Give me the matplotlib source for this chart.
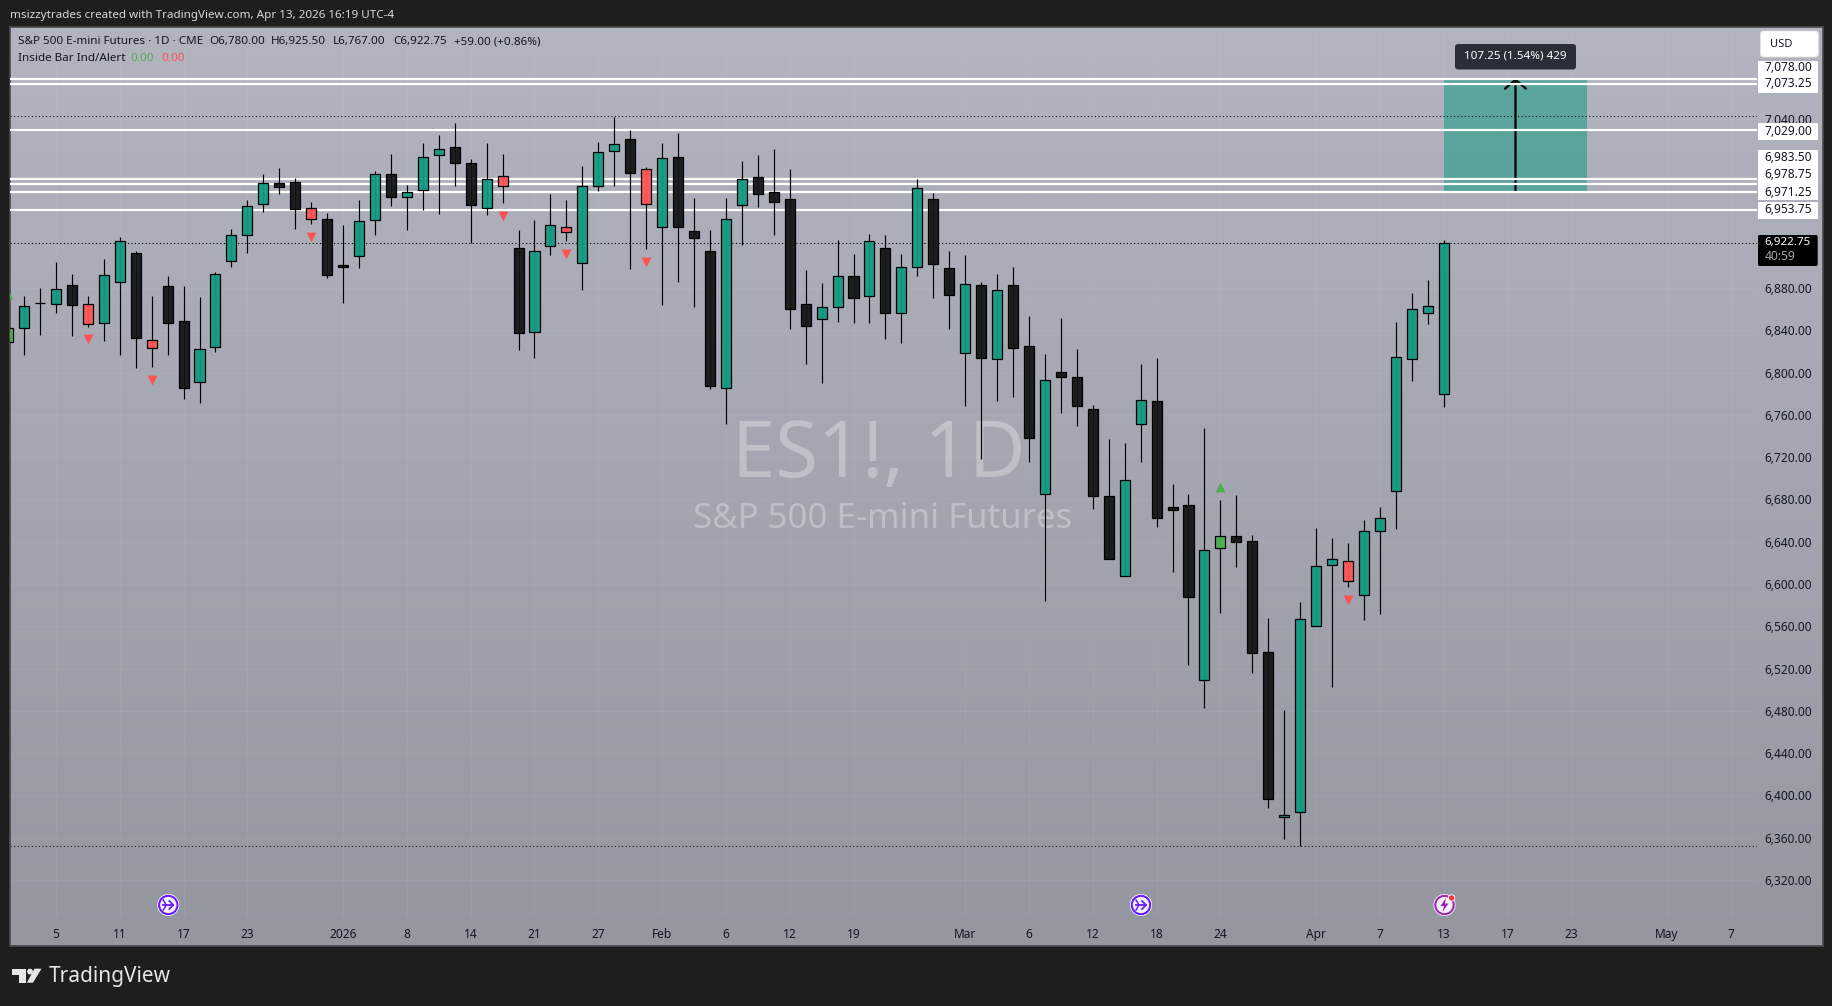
import matplotlib
matplotlib.use("Agg")
import matplotlib.pyplot as plt
import numpy as np
from matplotlib.colors import to_rgba
from matplotlib.patches import Circle, FancyBboxPatch, Polygon, Rectangle

plt.rcParams["font.family"] = ["Noto Sans", "DejaVu Sans"]

W, H = 1833, 1006

# daily candles, first one is three sessions before the "5" tick
# u up, d down, r red inside bar, g green inside bar
kinds = list(
    "g" "u" "d" "u" "d" "r" "u" "u" "d" "r" "d" "d" "u" "u" "u" "u" "u" "d" "d" "r"
    "d" "d" "u" "u" "d" "u" "u" "u" "d" "d" "u" "r" "d" "u" "u" "r" "u" "u" "u" "d"
    "r" "u" "d" "d" "d" "u" "u" "d" "d" "d" "d" "u" "u" "d" "u" "d" "u" "u" "d" "d"
    "u" "d" "u" "d" "d" "u" "d" "d" "d" "d" "u" "u" "d" "d" "d" "u" "g" "d" "d" "d"
    "u" "u" "u" "u" "r" "u" "u" "u" "u" "u" "u")
highs = [6849.7, 6872.4, 6879.7, 6904.6, 6893.2, 6872.4, 6907.1, 6928.2, 6914.7, 6872.4,
         6891.3, 6881.9, 6871.5, 6895.1, 6935.5, 6963.2, 6987.8, 6993.5, 6984.0, 6961.3,
         6950.6, 6939.6, 6963.2, 6990.3, 7006.7, 6977.1, 7016.8, 7024.7, 7035.8, 7002.0,
         7016.8, 7006.7, 6934.8, 6944.3, 6968.9, 6963.2, 6995.4, 7017.8, 7042.0, 7029.5,
         6994.5, 7017.2, 7026.6, 6965.2, 6934.9, 6965.2, 7000.1, 7005.8, 7011.2, 6992.6,
         6897.0, 6884.7, 6925.4, 6912.2, 6931.1, 6930.1, 6912.2, 6983.1, 6969.9, 6915.0,
         6911.2, 6885.4, 6893.3, 6899.6, 6853.5, 6817.6, 6851.3, 6822.3, 6769.3, 6737.1,
         6733.4, 6807.8, 6813.8, 6694.6, 6685.1, 6747.2, 6679.4, 6683.9, 6646.0, 6567.5,
         6480.8, 6582.6, 6652.6, 6643.2, 6638.4, 6660.5, 6672.5, 6848.0, 6875.0, 6888.0,
         6925.5]
body_top = [6841.8, 6863.3, 6865.5, 6878.7, 6882.5, 6864.5, 6892.0, 6924.1, 6912.8, 6830.5,
            6881.6, 6848.4, 6822.0, 6892.9, 6929.8, 6957.2, 6979.0, 6979.0, 6979.9, 6955.3,
            6944.9, 6901.4, 6943.0, 6987.5, 6987.5, 6970.5, 7003.6, 7011.2, 7013.4, 6997.9,
            6982.8, 6985.6, 6917.5, 6914.7, 6939.2, 6937.4, 6976.2, 7008.3, 7015.9, 7020.6,
            6992.3, 7002.7, 7003.6, 6933.6, 6914.7, 6945.0, 6982.8, 6984.7, 6970.5, 6963.9,
            6864.6, 6861.7, 6891.0, 6891.0, 6924.2, 6917.5, 6899.6, 6974.3, 6963.9, 6898.6,
            6883.5, 6882.5, 6877.8, 6882.5, 6824.8, 6792.7, 6800.2, 6795.5, 6765.2, 6682.9,
            6698.0, 6773.7, 6772.8, 6672.5, 6674.4, 6631.8, 6645.1, 6645.1, 6640.4, 6535.3,
            6381.8, 6566.5, 6616.7, 6623.3, 6621.4, 6649.8, 6662.1, 6815.0, 6860.0, 6863.0,
            6922.75]
body_bottom = [6828.6, 6841.8, 6865.5, 6864.5, 6863.6, 6845.6, 6846.6, 6886.0, 6832.4, 6823.6,
               6847.2, 6785.7, 6790.8, 6823.9, 6905.2, 6929.8, 6959.1, 6975.8, 6955.0, 6944.9,
               6892.6, 6899.5, 6910.6, 6944.6, 6966.4, 6966.4, 6972.4, 7006.1, 6998.6, 6958.8,
               6955.3, 6976.8, 6837.1, 6838.0, 6919.4, 6932.6, 6903.3, 6976.2, 7009.3, 6989.1,
               6959.8, 6937.4, 6938.0, 6927.6, 6787.6, 6785.1, 6958.8, 6969.2, 6961.7, 6860.5,
               6844.4, 6851.0, 6861.7, 6870.9, 6872.8, 6856.7, 6856.7, 6899.6, 6903.0, 6873.7,
               6818.8, 6813.5, 6812.5, 6823.6, 6738.4, 6684.8, 6796.1, 6768.7, 6683.6, 6624.0,
               6607.2, 6751.0, 6662.7, 6669.7, 6587.4, 6508.8, 6633.7, 6640.0, 6534.4, 6396.9,
               6379.3, 6384.0, 6560.5, 6617.6, 6602.5, 6589.3, 6649.8, 6688.0, 6813.0, 6856.6,
               6780.0]
lows = [6824.5, 6816.6, 6835.5, 6856.6, 6834.6, 6843.4, 6830.2, 6816.9, 6804.3, 6805.6,
        6816.9, 6775.3, 6771.5, 6819.8, 6900.2, 6913.4, 6952.2, 6969.2, 6936.1, 6940.8,
        6889.7, 6866.1, 6899.2, 6930.1, 6957.5, 6934.8, 6953.8, 6950.3, 6976.8, 6922.9,
        6949.4, 6960.7, 6821.3, 6814.1, 6911.5, 6924.4, 6878.4, 6972.0, 6976.8, 6898.3,
        6917.2, 6864.2, 6886.0, 6862.4, 6784.8, 6751.7, 6921.0, 6957.0, 6930.5, 6841.5,
        6808.4, 6790.4, 6848.2, 6847.2, 6847.2, 6832.1, 6828.3, 6891.7, 6870.5, 6841.5,
        6768.7, 6718.6, 6773.4, 6777.2, 6715.7, 6584.2, 6762.1, 6749.8, 6671.0, 6624.0,
        6607.2, 6715.7, 6654.2, 6611.7, 6523.7, 6483.0, 6572.9, 6616.4, 6516.1, 6388.4,
        6359.1, 6352.1, 6560.5, 6502.9, 6597.5, 6565.9, 6571.9, 6652.0, 6792.0, 6846.0,
        6767.0]
first_session = -3

# inside bar markers
down_marks_x = [2, 6, 16, 28, 32, 37, 81]
down_marks_y = [6831.4, 6792.9, 6928.2, 6948.1, 6912.1, 6904.6, 6584.8]
up_marks_x = [-3, 73]
up_marks_y = [6874.3, 6692.0]

# horizontal levels
white_levels = [7078.0, 7073.25, 7029.0, 6983.5, 6978.75, 6971.25, 6953.75]
high_level = 7043.0
low_level = 6352.0
last_price = 6922.75

# long position tool
range_left, range_right = 87, 96
range_low, range_high = 6971.25, 7078.5
arrow_x = 91.5

y_ticks = [6320, 6360, 6400, 6440, 6480, 6520, 6560, 6600, 6640, 6680, 6720, 6760,
           6800, 6840, 6880, 7040]
x_tick_pos = [0, 4, 8, 12, 18, 22, 26, 30, 34, 38, 42, 46, 50, 57, 61, 65, 69, 73, 79, 83, 87,
              91, 95, 101, 105]
x_tick_labels = ["5", "11", "17", "23", "2026", "8", "14", "21", "27", "Feb", "6", "12", "19",
                 "Mar", "6", "12", "18", "24", "Apr", "7", "13", "17", "23", "May", "7"]

colors = {"u": "#149a82", "d": "#141517", "r": "#ff5555", "g": "#4caf50"}
wick_color = "#000000"
x_left, x_right = -2.88, 106.64
TEXT = "#131722"
FONT = 8.4


def box(left, top, right, bottom):
    return [left / W, 1 - bottom / H, (right - left) / W, (bottom - top) / H]


fig = plt.figure(figsize=(W / 100, H / 100), dpi=100, facecolor="#1e1e1e")

# pane background with its frame
bg = fig.add_axes(box(10, 27, 1823, 946), zorder=0)
shade = np.linspace(0, 1, 256)[:, None, None]
top_rgb = np.array([178, 181, 192]) / 255
bottom_rgb = np.array([148, 151, 160]) / 255
bg.imshow(top_rgb + (bottom_rgb - top_rgb) * shade, aspect="auto")
bg.set_xticks([])
bg.set_yticks([])
for spine in bg.spines.values():
    spine.set_color("#4a4a4a")
    spine.set_linewidth(1.2)

ax = fig.add_axes(box(10, 27, 1757, 917), zorder=1)
ax.patch.set_alpha(0)
for spine in ax.spines.values():
    spine.set_visible(False)
ax.set_xlim(x_left, x_right)
ax.set_ylim(6285.0, 7126.9)

ax.set_yticks(y_ticks)
ax.set_yticklabels([f"{v:,.2f}" for v in y_ticks])
ax.yaxis.tick_right()
ax.set_xticks(x_tick_pos)
ax.set_xticklabels(x_tick_labels)
ax.tick_params(axis="both", length=0, labelsize=8.6, labelcolor=TEXT)
ax.tick_params(axis="y", pad=5.4)
ax.tick_params(axis="x", pad=8)
ax.get_xticklabels()[4].set_fontweight("bold")
ax.grid(True, color="white", alpha=0.05, lw=0.8)
ax.set_axisbelow(True)

ax.text(0.4975, 0.5175, "ES1!, 1D", transform=ax.transAxes, ha="center", va="center",
        fontsize=56, color="white", alpha=0.3, zorder=1)
ax.text(0.4997, 0.4475, "S&P 500 E-mini Futures", transform=ax.transAxes, ha="center", va="center",
        fontsize=25, color="white", alpha=0.3, zorder=1)

ax.add_patch(Rectangle((range_left, range_low), range_right - range_left, range_high - range_low,
                       facecolor="#149a82", alpha=0.55, edgecolor="none", zorder=2))

ax.annotate("", xy=(arrow_x, range_high), xytext=(arrow_x, range_low),
            arrowprops=dict(arrowstyle="->,head_length=0.65,head_width=0.75", color="black", lw=1.6,
                            shrinkA=0, shrinkB=0), zorder=2.5)

ax.hlines(white_levels, x_left, x_right, colors="white", lw=1.6, zorder=3)
dots = (0, (1, 2.2))
ax.hlines([high_level, low_level], x_left, x_right, colors="#1a1a1a", lw=0.8, linestyles=[dots], zorder=3)
ax.hlines(last_price, x_left, x_right, colors="#000000", lw=0.8, linestyles=[dots], zorder=3)

idx = np.arange(len(highs)) + first_session
ax.vlines(idx, lows, highs, colors=wick_color, lw=0.85, zorder=4)
faces = [to_rgba(colors[k], 0.95) for k in kinds]
ax.bar(idx, np.array(body_top) - np.array(body_bottom), bottom=body_bottom, width=0.63,
       color=faces, edgecolor="#000000", linewidth=0.9, zorder=5)

ax.scatter(down_marks_x, down_marks_y, marker="v", s=50, color="#ff5252", linewidths=0, zorder=6)
ax.scatter(up_marks_x, up_marks_y, marker="^", s=50, color="#4caf50", linewidths=0, zorder=6)

# overlay in screen pixels for the parts of the window around the chart
px = fig.add_axes([0, 0, 1, 1], zorder=2)
px.set_xlim(0, W)
px.set_ylim(H, 0)
px.axis("off")

px.text(10, 15, "msizzytrades created with TradingView.com, Apr 13, 2026 16:19 UTC-4",
        color="#d8d8d8", fontsize=FONT, va="center")

legend_parts = ["S&P 500 E-mini Futures · 1D · CME", "O6,780.00", "H6,925.50", "L6,767.00", "C6,922.75",
                "+59.00 (+0.86%)"]
legend_x = [18, 209.6, 271, 333, 393, 454]
for part, x in zip(legend_parts, legend_x):
    px.text(x, 41.5, part, color=TEXT, fontsize=FONT, va="center")
px.text(18, 58.5, "Inside Bar Ind/Alert", color=TEXT, fontsize=FONT, va="center")
px.text(130.5, 58.5, "0.00", color="#4caf50", fontsize=FONT, va="center")
px.text(161, 58.5, "0.00", color="#ff5252", fontsize=FONT, va="center")

# price scale labels
px.add_patch(FancyBboxPatch((1762.5, 33), 54, 22, boxstyle="round,pad=2,rounding_size=3",
                            facecolor="white", edgecolor="#e0e0e0", lw=0.6))
px.text(1770, 44.7, "USD", color=TEXT, fontsize=8, va="center")
for top, bottom in [(61, 92.7), (123, 139.7), (150, 200), (202, 218.7)]:
    px.add_patch(Rectangle((1758, top), 59.7, bottom - top, facecolor="white", edgecolor="none"))
level_labels = ["7,078.00", "7,073.25", "7,029.00", "6,983.50", "6,978.75", "6,971.25", "6,953.75"]
level_label_y = [67, 83.5, 131, 157, 174.7, 192, 209.7]
for label, y in zip(level_labels, level_label_y):
    px.text(1764.5, y, label, color=TEXT, fontsize=8.6, va="center")

px.add_patch(FancyBboxPatch((1758, 235), 59.7, 31, boxstyle="round,pad=0,rounding_size=1.5",
                            facecolor="black", edgecolor="none"))
px.text(1764.5, 242.5, "6,922.75", color="white", fontsize=8.4, fontweight="bold", va="center")
px.text(1764.5, 256.5, "40:59", color="#a8a8a8", fontsize=8.6, va="center")

# measure label above the position tool
px.add_patch(FancyBboxPatch((1457, 46), 117, 21.5, boxstyle="round,pad=2,rounding_size=3",
                            facecolor="#2a2e39", edgecolor="none"))
px.text(1515.7, 56, "107.25 (1.54%) 429", color="white", fontsize=FONT, ha="center", va="center")


def event_icon(cx, cy, ring):
    px.add_patch(Circle((cx, cy), 11, facecolor="white", edgecolor="none"))
    px.add_patch(Circle((cx, cy), 9.2, facecolor="#f4f2fb", edgecolor=ring, lw=1.5))


for cx in [168.3, 1141]:
    event_icon(cx, 905, "#6a1bff")
    px.plot([cx - 5, cx + 5], [905, 905], color="#6a1bff", lw=1.3)
    px.plot([cx + 1, cx + 5, cx + 1], [901, 905, 909], color="#6a1bff", lw=1.3)
    px.plot([cx - 5, cx - 2], [900, 905], color="#6a1bff", lw=1.1)
    px.plot([cx - 5, cx - 2], [910, 905], color="#6a1bff", lw=1.1)
event_icon(1444.5, 905, "#9c27b0")
px.add_patch(Polygon([(1446, 898), (1440.5, 906), (1444, 906), (1442.5, 912), (1448.5, 903.5), (1445, 903.5)],
                     facecolor="#9c27b0", edgecolor="none"))
px.add_patch(Circle((1451.6, 898), 3.2, facecolor="#f23645", edgecolor="white", lw=0.6))

# logo
logo_color = "#e6e6e6"
px.add_patch(Polygon([(12, 968.7), (26, 968.7), (26, 982.7), (19, 982.7), (19, 974.5), (12, 974.5)],
                     facecolor=logo_color, edgecolor="none"))
px.add_patch(Circle((30, 971.6), 2.9, facecolor=logo_color, edgecolor="none"))
px.add_patch(Polygon([(34.5, 968.7), (41.5, 968.7), (33, 982.7), (26.8, 982.7)],
                     facecolor=logo_color, edgecolor="none"))
px.text(49, 976.5, "TradingView", color=logo_color, fontsize=15, fontweight="semibold", va="center")

fig.savefig("out.png", dpi=100, facecolor=fig.get_facecolor())
